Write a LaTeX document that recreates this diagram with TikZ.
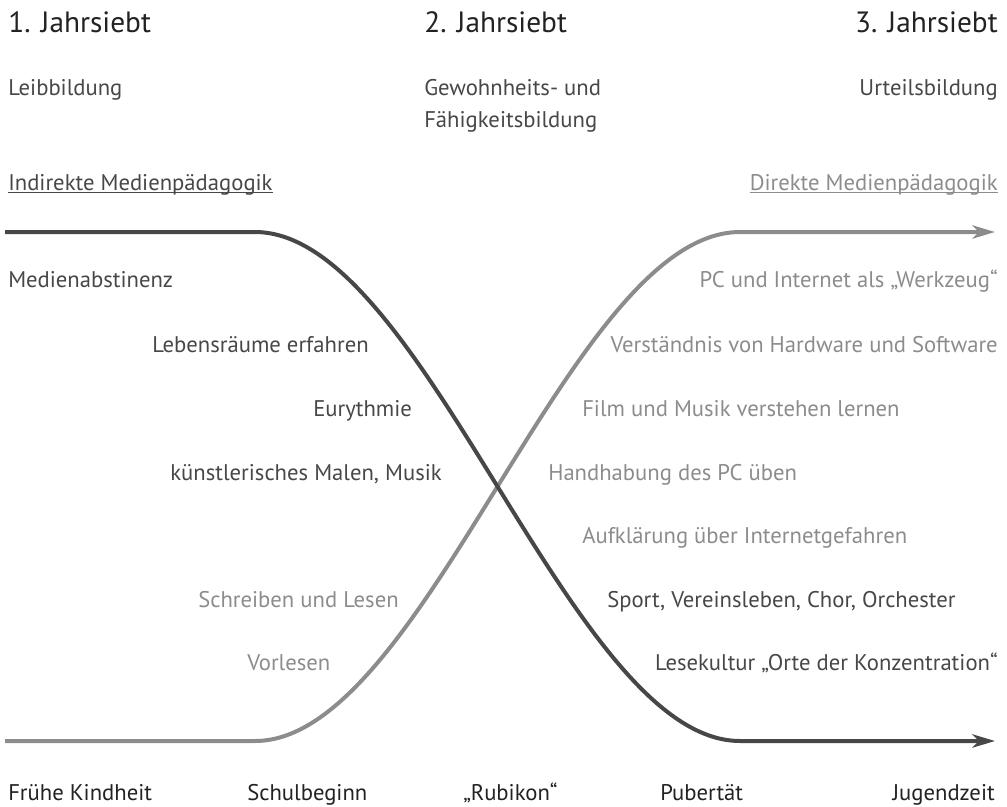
\documentclass[tikz,border=0pt]{standalone}
\usepackage{fontspec}
\setmainfont{PT Sans}
\usetikzlibrary{arrows.meta,positioning}
\definecolor{ink}{HTML}{222222}
\definecolor{dark}{HTML}{474747}
\definecolor{soft}{HTML}{8C8C8C}
\newcommand{\undl}[1]{\setbox0\hbox{#1}\rlap{\rule[-2.2pt]{\wd0}{0.8pt}}\box0}

\begin{document}
\begin{tikzpicture}[x=0.75pt,y=-0.75pt,
    head/.style={inner sep=0pt, text=ink, font=\fontsize{22}{26}\selectfont},
    txt/.style={inner sep=0pt, text=dark, font=\fontsize{17}{20}\selectfont},
    faint/.style={txt, text=soft},
    stage/.style={txt, text=ink},
    track/.style={line width=3pt, -{Stealth[length=17pt,width=10pt,inset=5pt]}}
]
\useasboundingbox (0,0) rectangle (1007,807);

\node[head, anchor=base west] (j1) at (8,32) {1. Jahrsiebt};
\node[head, anchor=base west] (j2) at (424,32) {2. Jahrsiebt};
\node[head, anchor=base east] (j3) at (998,32) {3. Jahrsiebt};

\node[txt, anchor=base west] (leib) at (8,95) {Leibbildung};
\node[txt, anchor=base west] (gew) at (424,95) {Gewohnheits- und};
\node[txt, anchor=base west] (faeh) at (424,127) {Fähigkeitsbildung};
\node[txt, anchor=base east] (urt) at (998,95) {Urteilsbildung};

\node[txt, anchor=base west] (indir) at (8,190) {\undl{Indirekte Medienpädagogik}};
\node[faint, anchor=base east] (dir) at (998,190) {\undl{Direkte Medienpädagogik}};

\coordinate (gS) at (5,741);
\coordinate (gA) at (255,741);
\coordinate (gB) at (740,232);
\coordinate (gE) at (995,232);
\coordinate (dS) at (5,232);
\coordinate (dA) at (255,232);
\coordinate (dB) at (740,741);
\coordinate (dE) at (995,741);
\draw[track, soft] (gS) -- (gA) .. controls +(170,0) and +(-170,0) .. (gB) -- (gE);
\draw[track, dark] (dS) -- (dA) .. controls +(170,0) and +(-170,0) .. (dB) -- (dE);

\node[txt, anchor=base west] (abst) at (8,287) {Medienabstinenz};
\node[txt, anchor=base west] (leben) at (152,352) {Lebensräume erfahren};
\node[txt, anchor=base west] (eury) at (313,416) {Eurythmie};
\node[txt, anchor=base east] (malen) at (442,480) {künstlerisches Malen, Musik};
\node[faint, anchor=base west] (schreib) at (198,607) {Schreiben und Lesen};
\node[faint, anchor=base west] (vorl) at (247,670) {Vorlesen};

\node[faint, anchor=base east] (pc) at (998,287) {PC und Internet als „Werkzeug“};
\node[faint, anchor=base east] (hard) at (998,352) {Verständnis von Hardware und Software};
\node[faint, anchor=base west] (film) at (582,416) {Film und Musik verstehen lernen};
\node[faint, anchor=base west] (hand) at (548,480) {Handhabung des PC üben};
\node[faint, anchor=base west] (aufkl) at (582,543) {Aufklärung über Internetgefahren};
\node[txt, anchor=base west] (sport) at (607,607) {Sport, Vereinsleben, Chor, Orchester};
\node[txt, anchor=base east] (lese) at (998,670) {Lesekultur „Orte der Konzentration“};

\node[stage, anchor=base west] (kind) at (8,800) {Frühe Kindheit};
\node[stage, anchor=base west] (schul) at (247,800) {Schulbeginn};
\node[stage, anchor=base west] (rubi) at (463,800) {„Rubikon“};
\node[stage, anchor=base west] (pub) at (660,800) {Pubertät};
\node[stage, anchor=base east] (jug) at (995,800) {Jugendzeit};
\end{tikzpicture}
\end{document}
